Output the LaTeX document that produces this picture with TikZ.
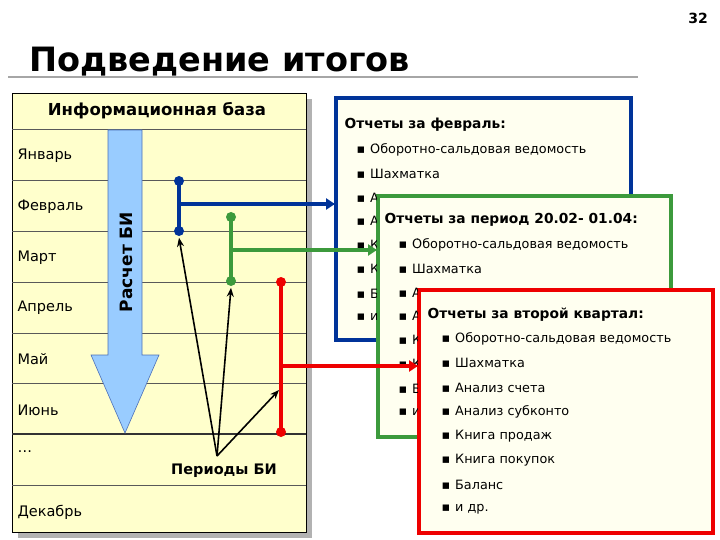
\documentclass[tikz,border=0pt]{standalone}
\usepackage{fontspec}
\setmainfont{DejaVu Sans}
\usetikzlibrary{arrows.meta}
\definecolor{ib}{HTML}{FFFFCC}
\definecolor{rb}{HTML}{FFFFF0}
\definecolor{nb}{HTML}{003399}
\definecolor{gb}{HTML}{3C9A3C}
\definecolor{rd}{HTML}{EE0000}
\definecolor{ab}{HTML}{99CCFF}
\tikzset{
 month/.style={anchor=west,font=\fontsize{14.5}{15}\selectfont},
 item/.style={anchor=west,font=\fontsize{12.8}{14}\selectfont},
 rtitle/.style={anchor=west,font=\bfseries\fontsize{13.8}{15}\selectfont},
 dot/.style={circle,fill,inner sep=0pt,minimum size=10pt},
 conn/.style={line width=3.5pt},
 ptr/.style={-{Stealth[length=9pt,width=7pt]},line width=1.6pt,black},
 rbox/.style={line width=4pt,fill=rb}
}
\begin{document}
\begin{tikzpicture}[x=1pt,y=-1pt]
\useasboundingbox (0,0) rectangle (720,540);
\node[font=\bfseries\fontsize{14}{15}\selectfont] (pg) at (698,18) {32};
\node[anchor=base west,font=\bfseries\fontsize{33.5}{34}\selectfont] (title) at (26,72) {Подведение итогов};
\draw[gray!70,line width=2pt] (8,77) -- (638,77);
\fill[gray!60] (18,99) rectangle (312,538);
\draw[fill=ib,line width=0.6pt] (12,93) rectangle (306,532);
\node[font=\bfseries\fontsize{16.5}{17}\selectfont] (ibh) at (157,111) {Информационная база};
\foreach \y in {129,180,231,282,333,383,485} \draw[gray!70!black,line width=0.6pt] (12,\y) -- (306,\y);
\draw[line width=1.2pt,gray!40!black] (12,434) -- (306,434);
\foreach \t/\y in {Январь/156,Февраль/207,Март/258,Апрель/308,Май/359,Июнь/410,{\ldots}/452,Декабрь/512}
  \node[month] at (14,\y) {\t};
\draw[fill=ab,draw=nb!70,line width=0.6pt] (108,130) -- (142,130) -- (142,355) -- (159,355) -- (125,433) -- (91,355) -- (108,355) -- cycle;
\node[rotate=90,font=\bfseries\fontsize{17}{18}\selectfont] (calc) at (126,262) {Расчет БИ};
\draw[rbox,draw=nb] (336,98) rectangle (631,340);
\node[rtitle] (t1) at (341,125) {Отчеты за февраль:};
\draw[rbox,draw=gb] (378,196) rectangle (671,437);
\draw[rbox,draw=rd] (419,290) rectangle (713,533);
\begin{scope}
\clip (331,93) rectangle (376,345);
\foreach \t [count=\i from 0] in {Оборотно-сальдовая ведомость,Шахматка,Анализ счета,Анализ субконто,Книга продаж,Книга покупок,Баланс,и др.}
  \node[item] at (353,150+24*\i) {▪\hspace{5pt}\t};
\end{scope}
\begin{scope}
\clip (376,93) rectangle (640,194);
\foreach \t [count=\i from 0] in {Оборотно-сальдовая ведомость,Шахматка,Анализ счета}
  \node[item] at (353,150+24*\i) {▪\hspace{5pt}\t};
\end{scope}
\node[rtitle] (t2) at (381,220) {Отчеты за период 20.02- 01.04:};
\begin{scope}
\clip (373,230) rectangle (417,442);
\foreach \t [count=\i from 0] in {Оборотно-сальдовая ведомость,Шахматка,Анализ счета,Анализ субконто,Книга продаж,Книга покупок,Баланс,и др.}
  \node[item] at (395,245+24*\i) {▪\hspace{5pt}\t};
\end{scope}
\begin{scope}
\clip (417,230) rectangle (680,288);
\foreach \t [count=\i from 0] in {Оборотно-сальдовая ведомость,Шахматка}
  \node[item] at (395,245+24*\i) {▪\hspace{5pt}\t};
\end{scope}
\node[rtitle] (t3) at (424,315) {Отчеты за второй квартал:};
\foreach \t [count=\i from 0] in {Оборотно-сальдовая ведомость,Шахматка,Анализ счета,Анализ субконто,Книга продаж,Книга покупок,Баланс,и др.}
  \node[item] at (438,339+24.3*\i) {▪\hspace{5pt}\t};
\coordinate (bh) at (179,204); \coordinate (be) at (335,204);
\coordinate (gh) at (231,250); \coordinate (ge) at (377,250);
\coordinate (rh) at (281,366); \coordinate (re) at (418,366);
\draw[conn,nb] (179,181) node[dot] (b1) {} -- (179,231) node[dot] (b2) {};
\draw[conn,nb,-{Triangle[length=9pt,width=11pt]}] (bh) -- (be);
\draw[conn,gb] (231,217) node[dot] (g1) {} -- (231,281) node[dot] (g2) {};
\draw[conn,gb,-{Triangle[length=9pt,width=11pt]}] (gh) -- (ge);
\draw[conn,rd] (281,282) node[dot] (r1) {} -- (281,432) node[dot] (r2) {};
\draw[conn,rd,-{Triangle[length=9pt,width=11pt]}] (rh) -- (re);
\node[font=\bfseries\fontsize{14.5}{15}\selectfont] (per) at (224,471) {Периоды БИ};
\coordinate (src) at (217,456);
\draw[ptr] (src) -- (b2.south);
\draw[ptr] (src) -- (g2.south);
\draw[ptr] (src) -- (279,390);
\end{tikzpicture}
\end{document}
